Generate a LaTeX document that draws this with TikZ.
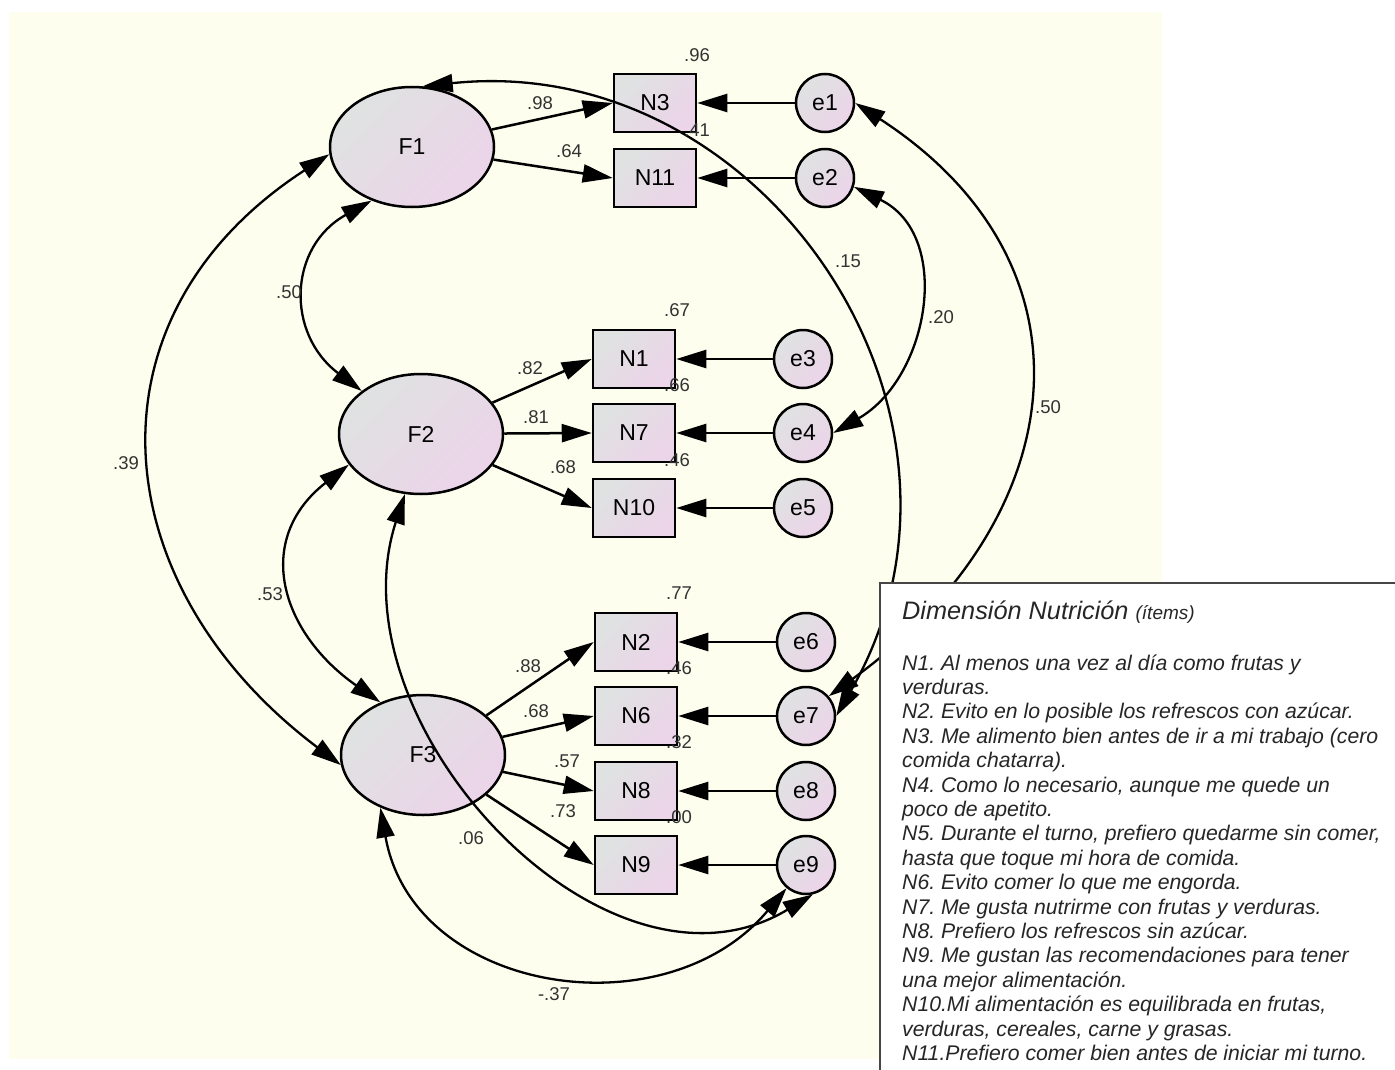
\documentclass[tikz,border=0pt]{standalone}
\usepackage{fontspec}
\setmainfont{Liberation Sans}
\usepackage{tikz}
\usetikzlibrary{shapes.geometric,arrows.meta,positioning}
\frenchspacing
\definecolor{bgyellow}{RGB}{253,254,238}
\definecolor{nodegray}{RGB}{223,226,225}
\definecolor{nodepink}{RGB}{236,212,233}
\definecolor{numgray}{RGB}{50,50,50}
\definecolor{boxline}{RGB}{70,70,70}
\tikzset{
  latent/.style={ellipse, draw, line width=2.5pt, minimum width=164pt, minimum height=120pt,
    top color=nodegray, bottom color=nodepink, shading angle=45, inner sep=0pt,
    font={\fontsize{23}{26}\selectfont}},
  item/.style={rectangle, draw, line width=2.5pt, minimum width=82pt, minimum height=58pt,
    top color=nodegray, bottom color=nodepink, shading angle=45, inner sep=0pt,
    font={\fontsize{23}{26}\selectfont}},
  err/.style={circle, draw, line width=2.5pt, minimum size=58pt,
    top color=nodegray, bottom color=nodepink, shading angle=45, inner sep=0pt,
    font={\fontsize{23}{26}\selectfont}},
  num/.style={inner sep=0pt, text=numgray, font={\fontsize{18.5}{20}\selectfont}},
  load/.style={line width=2.5pt, -{Triangle[length=30pt,width=18pt]}},
  cov/.style={line width=2.3pt, {Triangle[length=30pt,width=18pt]}-{Triangle[length=30pt,width=18pt]}}}

\begin{document}
\begin{tikzpicture}[x=1pt,y=1pt]
\useasboundingbox (0,0) rectangle (1395,-1070);
\fill [bgyellow] (9,-12) rectangle (1162,-1059);
% factors
\node [latent] (F1) at (412,-147) {F1};
\node [latent] (F2) at (421,-434) {F2};
\node [latent] (F3) at (423,-755) {F3};
% items
\node [item] (N3) at (655,-103) {N3};
\node [item] (N11) at (655,-178) {N11};
\node [item] (N1) at (634,-359) {N1};
\node [item] (N7) at (634,-433) {N7};
\node [item] (N10) at (634,-508) {N10};
\node [item] (N2) at (636,-642) {N2};
\node [item] (N6) at (636,-716) {N6};
\node [item] (N8) at (636,-791) {N8};
\node [item] (N9) at (636,-865) {N9};
% errors
\node [err] (e1) at (825,-103) {e1};
\node [err] (e2) at (825,-178) {e2};
\node [err] (e3) at (803,-359) {e3};
\node [err] (e4) at (803,-433) {e4};
\node [err] (e5) at (803,-508) {e5};
\node [err] (e6) at (806,-642) {e6};
\node [err] (e7) at (806,-716) {e7};
\node [err] (e8) at (806,-791) {e8};
\node [err] (e9) at (806,-865) {e9};
% loadings
\draw [load] (F1) -- (N3.west);
\draw [load] (F1) -- (N11.west);
\draw [load] (F2) -- (N1.west);
\draw [load] (F2) -- (N7.west);
\draw [load] (F2) -- (N10.west);
\draw [load] (F3.32) -- (N2.west);
\draw [load] (F3) -- (N6.west);
\draw [load] (F3) -- (N8.west);
\draw [load] (F3.328) -- (N9.west);
% error terms
\draw [load] (e1) -- (N3);
\draw [load] (e2) -- (N11);
\draw [load] (e3) -- (N1);
\draw [load] (e4) -- (N7);
\draw [load] (e5) -- (N10);
\draw [load] (e6) -- (N2);
\draw [load] (e7) -- (N6);
\draw [load] (e8) -- (N8);
\draw [load] (e9) -- (N9);
% covariances
\draw [cov] (F1.233) to[out=209,in=143,looseness=1.28] (F2.144);
\draw [cov] (F2.203) to[out=218,in=145,looseness=1.3] (F3.129);
\draw [cov] (F1.185) to[out=213,in=143,looseness=1.25] (F3.187);
\draw [cov] (F3.231) to[out=280,in=230,looseness=1.17] (e9.230);
\draw [cov] (F2.255) to[out=252,in=211,looseness=1.08] (e9.283);
\draw [cov] (F1.80) to[out=6,in=60,looseness=1.17] (e7.0);
\draw [cov] (e1.0) to[out=-33,in=36,looseness=1.29] (e7.41);
\draw [cov] (e2.343) to[out=-26,in=30,looseness=1.15] (e4.0);
% estimates
\node [num] (r3) at (697,-55) {.96};
\node [num] (r11) at (697,-130) {.41};
\node [num] (l3) at (540,-103) {.98};
\node [num] (l11) at (569,-151) {.64};
\node [num] (c17) at (848,-261) {.15};
\node [num] (c24) at (941,-317) {.20};
\node [num] (c17b) at (1048,-407) {.50};
\node [num] (c12) at (289,-292) {.50};
\node [num] (r1) at (677,-310) {.67};
\node [num] (l1) at (530,-368) {.82};
\node [num] (r7) at (677,-385) {.66};
\node [num] (l7) at (536,-417) {.81};
\node [num] (r10) at (677,-460) {.46};
\node [num] (l10) at (563,-467) {.68};
\node [num] (c13) at (126,-463) {.39};
\node [num] (c23) at (270,-594) {.53};
\node [num] (r2) at (679,-593) {.77};
\node [num] (l2) at (528,-666) {.88};
\node [num] (r6) at (679,-668) {.46};
\node [num] (l6) at (536,-711) {.68};
\node [num] (r8) at (679,-742) {.32};
\node [num] (l8) at (567,-761) {.57};
\node [num] (r9) at (679,-817) {.00};
\node [num] (l9) at (563,-811) {.73};
\node [num] (c29) at (471,-838) {.06};
\node [num] (c39) at (554,-994) {-.37};
% legend
\draw [boxline, line width=1.5pt, fill=white] (880,-583) rectangle (1410,-1085);
\node [anchor=base west, inner sep=0pt, text=black!85, font={\itshape\fontsize{25.3}{30}\selectfont}]
  (title) at (902,-619) {Dimensión Nutrición {\fontsize{19}{22}\selectfont(ítems)}};
\node [anchor=north west, inner sep=0pt, align=left, text=black!85,
  font={\itshape\fontsize{21.2}{24.4}\selectfont}] (items) at (902,-652.9)
  {\strut N1. Al menos una vez al día como frutas y\\
   verduras.\\
   N2. Evito en lo posible los refrescos con azúcar.\\
   N3. Me alimento bien antes de ir a mi trabajo (cero\\
   comida chatarra).\\
   N4. Como lo necesario, aunque me quede un\\
   poco de apetito.\\
   N5. Durante el turno, prefiero quedarme sin comer,\\
   hasta que toque mi hora de comida.\\
   N6. Evito comer lo que me engorda.\\
   N7. Me gusta nutrirme con frutas y verduras.\\
   N8. Prefiero los refrescos sin azúcar.\\
   N9. Me gustan las recomendaciones para tener\\
   una mejor alimentación.\\
   N10.Mi alimentación es equilibrada en frutas,\\
   verduras, cereales, carne y grasas.\\
   N11.Prefiero comer bien antes de iniciar mi turno.};
\end{tikzpicture}
\end{document}
